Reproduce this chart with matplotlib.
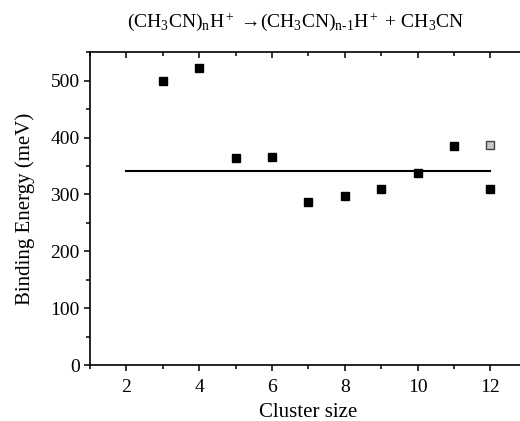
import matplotlib.pyplot as plt
import numpy as np
from matplotlib.ticker import MultipleLocator

plt.rcParams['font.family'] = 'Liberation Serif'
plt.rcParams['mathtext.fontset'] = 'custom'
plt.rcParams['mathtext.rm'] = 'Liberation Serif'
plt.rcParams['mathtext.it'] = 'Liberation Serif'

cluster = [3, 4, 5, 6, 7, 8, 9, 10, 11, 12]
energy = [500, 523, 364, 365, 286, 297, 310, 337, 385, 310]
extra_x = [12]
extra_y = [386]
mean_x = [2, 12]
mean_y = [341, 341]

fig = plt.figure(figsize=(5.2, 4.21), dpi=100)
ax = fig.add_axes([0.173, 0.133, 0.84, 0.743])

ax.plot(mean_x, mean_y, color='black', lw=1.5)
ax.plot(cluster, energy, 's', color='black', ms=5.5)
ax.plot(extra_x, extra_y, 's', mfc='#c8c8c8', mec='#444444', ms=6, mew=1)

ax.set_xlim(1, 13)
ax.set_ylim(0, 550)
ax.xaxis.set_major_locator(MultipleLocator(2))
ax.xaxis.set_minor_locator(MultipleLocator(1))
ax.yaxis.set_major_locator(MultipleLocator(100))
ax.yaxis.set_minor_locator(MultipleLocator(50))
ax.spines['right'].set_visible(False)
for s in ax.spines.values():
    s.set_linewidth(1.2)

ax.tick_params(which='both', direction='out', labelsize=14, width=1.1)
ax.tick_params(which='major', length=4)
ax.tick_params(which='minor', length=3)
ax.tick_params(which='both', top=True, labeltop=False)
ax.tick_params(axis='x', pad=6)

# top ticks point inward
for t in ax.xaxis.get_major_ticks() + ax.xaxis.get_minor_ticks():
    t.tick2line.set_marker(3)

ax.set_xlabel('Cluster size', fontsize=15, labelpad=5)
ax.set_ylabel('Binding Energy (meV)', fontsize=15, labelpad=11)
ax.set_title('(CH$_3$CN)$_\\mathrm{n}$H$^+$ \u2192(CH$_3$CN)$_\\mathrm{n\\text{-}1}$H$^+$ + CH$_3$CN',
             fontsize=14, pad=18, x=0.47)

fig.savefig('out.png', dpi=100)
